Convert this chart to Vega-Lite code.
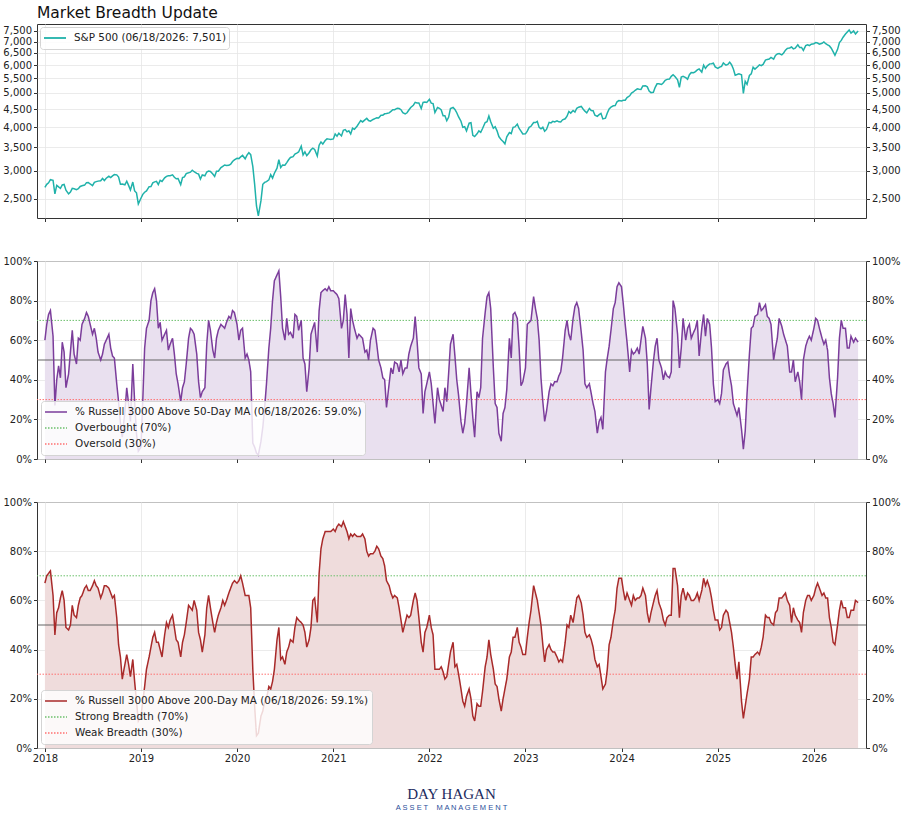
{
  "$schema": "https://vega.github.io/schema/vega-lite/v6.json",
  "padding": {"left": 2, "top": 5, "right": 1, "bottom": 2},
  "background": "white",
  "bounds": "flush",
  "spacing": 43,
  "config": {
    "font": "DejaVu Sans",
    "view": {"stroke": "#333", "strokeWidth": 1},
    "axis": {"domain": false, "tickColor": "#333", "tickSize": 3.5, "labelPadding": 2, "labelFont": "DejaVu Sans", "labelFontSize": 10, "labelColor": "#222", "gridColor": "#e6e6e6", "gridWidth": 0.8, "title": null},
    "legend": {"title": null, "symbolType": "stroke", "symbolSize": 484, "clipHeight": 16, "symbolStrokeWidth": 1.6, "labelFont": "DejaVu Sans", "labelFontSize": 10.4, "labelColor": "#222", "labelOffset": 7, "fillColor": "rgba(255,255,255,0.82)", "strokeColor": "#d4d4d4", "cornerRadius": 3, "padding": 3, "rowPadding": 0, "labelLimit": 500, "offset": 4}
  },
  "title": {"text": "DAY HAGAN", "subtitle": "A S S E T\u00a0\u00a0\u00a0 M A N A G E M E N T", "orient": "bottom", "anchor": "middle", "font": "Liberation Serif", "fontSize": 15, "fontWeight": "normal", "color": "#1c2b5e", "subtitleFont": "Liberation Sans", "subtitleFontSize": 7.5, "subtitleColor": "#2a4f9a", "subtitlePadding": 2, "offset": 23},
  "datasets": {
    "m": [
      {"d":"2018-01-01","s":2695,"a":60,"b":67},{"d":"2018-01-08","s":2748,"a":68,"b":70},{"d":"2018-01-15","s":2776,"a":73,"b":71},{"d":"2018-01-22","s":2833,"a":75,"b":72},
      {"d":"2018-02-01","s":2822,"a":62,"b":62},{"d":"2018-02-08","s":2581,"a":27,"b":46},{"d":"2018-02-15","s":2731,"a":40,"b":55},{"d":"2018-02-22","s":2703,"a":47,"b":57},
      {"d":"2018-03-01","s":2678,"a":41,"b":61},{"d":"2018-03-08","s":2738,"a":59,"b":64},{"d":"2018-03-15","s":2747,"a":54,"b":60},{"d":"2018-03-22","s":2644,"a":36,"b":49},
      {"d":"2018-04-01","s":2582,"a":43,"b":48},{"d":"2018-04-08","s":2613,"a":54,"b":50},{"d":"2018-04-15","s":2677,"a":65,"b":58},{"d":"2018-04-22","s":2670,"a":53,"b":54},
      {"d":"2018-05-01","s":2655,"a":48,"b":53},{"d":"2018-05-08","s":2672,"a":61,"b":58},{"d":"2018-05-15","s":2711,"a":60,"b":61},{"d":"2018-05-22","s":2724,"a":68,"b":62},
      {"d":"2018-06-01","s":2735,"a":71,"b":65},{"d":"2018-06-08","s":2779,"a":74,"b":66},{"d":"2018-06-15","s":2780,"a":72,"b":64},{"d":"2018-06-22","s":2755,"a":68,"b":64},
      {"d":"2018-07-01","s":2726,"a":63,"b":66},{"d":"2018-07-08","s":2784,"a":66,"b":68},{"d":"2018-07-15","s":2798,"a":61,"b":66},{"d":"2018-07-22","s":2807,"a":54,"b":65},
      {"d":"2018-08-01","s":2813,"a":50,"b":61},{"d":"2018-08-08","s":2857,"a":53,"b":63},{"d":"2018-08-15","s":2818,"a":58,"b":66},{"d":"2018-08-22","s":2861,"a":60,"b":66},
      {"d":"2018-09-01","s":2897,"a":63,"b":65},{"d":"2018-09-08","s":2872,"a":56,"b":63},{"d":"2018-09-15","s":2905,"a":52,"b":61},{"d":"2018-09-22","s":2930,"a":51,"b":62},
      {"d":"2018-10-01","s":2924,"a":38,"b":53},{"d":"2018-10-08","s":2884,"a":29,"b":42},{"d":"2018-10-15","s":2750,"a":18,"b":37},{"d":"2018-10-22","s":2755,"a":11,"b":28},
      {"d":"2018-11-01","s":2740,"a":24,"b":34},{"d":"2018-11-08","s":2806,"a":36,"b":38},{"d":"2018-11-15","s":2730,"a":28,"b":34},{"d":"2018-11-22","s":2650,"a":19,"b":29},
      {"d":"2018-12-01","s":2790,"a":48,"b":36},{"d":"2018-12-08","s":2633,"a":29,"b":27},{"d":"2018-12-15","s":2600,"a":13,"b":19},{"d":"2018-12-22","s":2417,"a":4,"b":11},
      {"d":"2019-01-01","s":2510,"a":6,"b":13},{"d":"2019-01-08","s":2574,"a":30,"b":19},{"d":"2019-01-15","s":2610,"a":56,"b":25},{"d":"2019-01-22","s":2633,"a":66,"b":32},
      {"d":"2019-02-01","s":2707,"a":70,"b":37},{"d":"2019-02-08","s":2708,"a":80,"b":41},{"d":"2019-02-15","s":2776,"a":84,"b":45},{"d":"2019-02-22","s":2793,"a":86,"b":47},
      {"d":"2019-03-01","s":2804,"a":80,"b":43},{"d":"2019-03-08","s":2743,"a":66,"b":43},{"d":"2019-03-15","s":2822,"a":69,"b":40},{"d":"2019-03-22","s":2801,"a":60,"b":37},
      {"d":"2019-04-01","s":2867,"a":63,"b":46},{"d":"2019-04-08","s":2895,"a":65,"b":51},{"d":"2019-04-15","s":2906,"a":55,"b":49},{"d":"2019-04-22","s":2908,"a":58,"b":52},
      {"d":"2019-05-01","s":2924,"a":61,"b":54},{"d":"2019-05-08","s":2879,"a":53,"b":49},{"d":"2019-05-15","s":2851,"a":43,"b":44},{"d":"2019-05-22","s":2856,"a":38,"b":43},
      {"d":"2019-06-01","s":2744,"a":29,"b":37},{"d":"2019-06-08","s":2873,"a":36,"b":43},{"d":"2019-06-15","s":2887,"a":39,"b":46},{"d":"2019-06-22","s":2950,"a":48,"b":51},
      {"d":"2019-07-01","s":2964,"a":61,"b":58},{"d":"2019-07-08","s":2976,"a":66,"b":57},{"d":"2019-07-15","s":3014,"a":65,"b":56},{"d":"2019-07-22","s":2985,"a":63,"b":60},
      {"d":"2019-08-01","s":2953,"a":53,"b":56},{"d":"2019-08-08","s":2938,"a":39,"b":47},{"d":"2019-08-15","s":2847,"a":31,"b":44},{"d":"2019-08-22","s":2922,"a":34,"b":39},
      {"d":"2019-09-01","s":2906,"a":36,"b":46},{"d":"2019-09-08","s":2979,"a":58,"b":57},{"d":"2019-09-15","s":2998,"a":70,"b":62},{"d":"2019-09-22","s":2991,"a":65,"b":57},
      {"d":"2019-10-01","s":2940,"a":55,"b":51},{"d":"2019-10-08","s":2893,"a":51,"b":47},{"d":"2019-10-15","s":2995,"a":61,"b":51},{"d":"2019-10-22","s":2996,"a":65,"b":54},
      {"d":"2019-11-01","s":3066,"a":68,"b":57},{"d":"2019-11-08","s":3093,"a":67,"b":60},{"d":"2019-11-15","s":3120,"a":66,"b":58},{"d":"2019-11-22","s":3110,"a":69,"b":60},
      {"d":"2019-12-01","s":3113,"a":72,"b":63},{"d":"2019-12-08","s":3136,"a":71,"b":65},{"d":"2019-12-15","s":3191,"a":75,"b":67},{"d":"2019-12-22","s":3224,"a":74,"b":68},
      {"d":"2020-01-01","s":3258,"a":68,"b":67},{"d":"2020-01-08","s":3253,"a":60,"b":68},{"d":"2020-01-15","s":3289,"a":65,"b":70},{"d":"2020-01-22","s":3321,"a":66,"b":67},
      {"d":"2020-02-01","s":3249,"a":51,"b":62},{"d":"2020-02-08","s":3327,"a":53,"b":62},{"d":"2020-02-15","s":3380,"a":50,"b":62},{"d":"2020-02-22","s":3338,"a":44,"b":57},
      {"d":"2020-03-01","s":3090,"a":8,"b":32},{"d":"2020-03-08","s":2747,"a":6,"b":17},{"d":"2020-03-15","s":2386,"a":3,"b":5},{"d":"2020-03-22","s":2237,"a":2,"b":6},
      {"d":"2020-04-01","s":2470,"a":9,"b":13},{"d":"2020-04-08","s":2750,"a":16,"b":15},{"d":"2020-04-15","s":2783,"a":26,"b":19},{"d":"2020-04-22","s":2799,"a":38,"b":20},
      {"d":"2020-05-01","s":2830,"a":56,"b":25},{"d":"2020-05-08","s":2930,"a":66,"b":24},{"d":"2020-05-15","s":2863,"a":80,"b":27},{"d":"2020-05-22","s":2955,"a":90,"b":32},
      {"d":"2020-06-01","s":3055,"a":93,"b":44},{"d":"2020-06-08","s":3232,"a":95,"b":49},{"d":"2020-06-15","s":3067,"a":82,"b":36},{"d":"2020-06-22","s":3117,"a":66,"b":37},
      {"d":"2020-07-01","s":3115,"a":60,"b":34},{"d":"2020-07-08","s":3169,"a":71,"b":39},{"d":"2020-07-15","s":3227,"a":63,"b":41},{"d":"2020-07-22","s":3276,"a":64,"b":44},
      {"d":"2020-08-01","s":3295,"a":61,"b":43},{"d":"2020-08-08","s":3351,"a":73,"b":49},{"d":"2020-08-15","s":3372,"a":72,"b":53},{"d":"2020-08-22","s":3397,"a":65,"b":52},
      {"d":"2020-09-01","s":3527,"a":70,"b":51},{"d":"2020-09-08","s":3332,"a":51,"b":50},{"d":"2020-09-15","s":3401,"a":48,"b":47},{"d":"2020-09-22","s":3315,"a":34,"b":41},
      {"d":"2020-10-01","s":3380,"a":46,"b":44},{"d":"2020-10-08","s":3446,"a":63,"b":49},{"d":"2020-10-15","s":3483,"a":66,"b":60},{"d":"2020-10-22","s":3453,"a":69,"b":61},
      {"d":"2020-11-01","s":3310,"a":54,"b":51},{"d":"2020-11-08","s":3550,"a":75,"b":71},{"d":"2020-11-15","s":3627,"a":84,"b":81},{"d":"2020-11-22","s":3577,"a":85,"b":85},
      {"d":"2020-12-01","s":3662,"a":86,"b":88},{"d":"2020-12-08","s":3702,"a":85,"b":88},{"d":"2020-12-15","s":3695,"a":87,"b":88},{"d":"2020-12-22","s":3687,"a":85,"b":88},
      {"d":"2021-01-01","s":3700,"a":85,"b":89},{"d":"2021-01-08","s":3824,"a":84,"b":88},{"d":"2021-01-15","s":3768,"a":83,"b":90},{"d":"2021-01-22","s":3841,"a":81,"b":91},
      {"d":"2021-02-01","s":3773,"a":66,"b":90},{"d":"2021-02-08","s":3915,"a":70,"b":92},{"d":"2021-02-15","s":3932,"a":83,"b":90},{"d":"2021-02-22","s":3876,"a":73,"b":88},
      {"d":"2021-03-01","s":3901,"a":51,"b":85},{"d":"2021-03-08","s":3821,"a":76,"b":87},{"d":"2021-03-15","s":3968,"a":70,"b":86},{"d":"2021-03-22","s":3940,"a":66,"b":87},
      {"d":"2021-04-01","s":4020,"a":61,"b":86},{"d":"2021-04-08","s":4097,"a":63,"b":86},{"d":"2021-04-15","s":4170,"a":62,"b":86},{"d":"2021-04-22","s":4135,"a":61,"b":87},
      {"d":"2021-05-01","s":4192,"a":54,"b":85},{"d":"2021-05-08","s":4232,"a":55,"b":80},{"d":"2021-05-15","s":4173,"a":50,"b":78},{"d":"2021-05-22","s":4156,"a":60,"b":79},
      {"d":"2021-06-01","s":4202,"a":66,"b":79},{"d":"2021-06-08","s":4227,"a":65,"b":80},{"d":"2021-06-15","s":4247,"a":58,"b":82},{"d":"2021-06-22","s":4246,"a":50,"b":81},
      {"d":"2021-07-01","s":4320,"a":46,"b":78},{"d":"2021-07-08","s":4321,"a":41,"b":77},{"d":"2021-07-15","s":4360,"a":40,"b":74},{"d":"2021-07-22","s":4367,"a":26,"b":68},
      {"d":"2021-08-01","s":4387,"a":38,"b":66},{"d":"2021-08-08","s":4432,"a":46,"b":63},{"d":"2021-08-15","s":4479,"a":43,"b":61},{"d":"2021-08-22","s":4479,"a":49,"b":62},
      {"d":"2021-09-01","s":4524,"a":48,"b":61},{"d":"2021-09-08","s":4514,"a":44,"b":57},{"d":"2021-09-15","s":4480,"a":50,"b":52},{"d":"2021-09-22","s":4395,"a":43,"b":47},
      {"d":"2021-10-01","s":4357,"a":46,"b":51},{"d":"2021-10-08","s":4391,"a":46,"b":54},{"d":"2021-10-15","s":4471,"a":53,"b":53},{"d":"2021-10-22","s":4545,"a":57,"b":54},
      {"d":"2021-11-01","s":4613,"a":61,"b":60},{"d":"2021-11-08","s":4701,"a":72,"b":63},{"d":"2021-11-15","s":4682,"a":60,"b":60},{"d":"2021-11-22","s":4682,"a":46,"b":53},
      {"d":"2021-12-01","s":4513,"a":43,"b":43},{"d":"2021-12-08","s":4701,"a":23,"b":39},{"d":"2021-12-15","s":4709,"a":34,"b":47},{"d":"2021-12-22","s":4696,"a":38,"b":49},
      {"d":"2022-01-01","s":4796,"a":44,"b":54},{"d":"2022-01-08","s":4677,"a":38,"b":49},{"d":"2022-01-15","s":4662,"a":28,"b":46},{"d":"2022-01-22","s":4398,"a":18,"b":32},
      {"d":"2022-02-01","s":4546,"a":36,"b":32},{"d":"2022-02-08","s":4521,"a":30,"b":32},{"d":"2022-02-15","s":4471,"a":27,"b":33},{"d":"2022-02-22","s":4304,"a":24,"b":31},
      {"d":"2022-03-01","s":4306,"a":36,"b":28},{"d":"2022-03-08","s":4170,"a":29,"b":29},{"d":"2022-03-15","s":4262,"a":43,"b":34},{"d":"2022-03-22","s":4512,"a":58,"b":39},
      {"d":"2022-04-01","s":4545,"a":63,"b":43},{"d":"2022-04-08","s":4488,"a":52,"b":33},{"d":"2022-04-15","s":4392,"a":40,"b":34},{"d":"2022-04-22","s":4272,"a":32,"b":30},
      {"d":"2022-05-01","s":4155,"a":19,"b":24},{"d":"2022-05-08","s":3991,"a":13,"b":19},{"d":"2022-05-15","s":4008,"a":18,"b":17},{"d":"2022-05-22","s":3901,"a":28,"b":21},
      {"d":"2022-06-01","s":4101,"a":46,"b":24},{"d":"2022-06-08","s":4115,"a":33,"b":20},{"d":"2022-06-15","s":3790,"a":21,"b":13},{"d":"2022-06-22","s":3759,"a":11,"b":11},
      {"d":"2022-07-01","s":3825,"a":34,"b":18},{"d":"2022-07-08","s":3899,"a":31,"b":17},{"d":"2022-07-15","s":3863,"a":36,"b":17},{"d":"2022-07-22","s":3962,"a":61,"b":23},
      {"d":"2022-08-01","s":4118,"a":74,"b":33},{"d":"2022-08-08","s":4140,"a":82,"b":37},{"d":"2022-08-15","s":4297,"a":84,"b":44},{"d":"2022-08-22","s":4138,"a":76,"b":38},
      {"d":"2022-09-01","s":3967,"a":46,"b":32},{"d":"2022-09-08","s":4006,"a":28,"b":26},{"d":"2022-09-15","s":3901,"a":26,"b":25},{"d":"2022-09-22","s":3758,"a":13,"b":20},
      {"d":"2022-10-01","s":3678,"a":9,"b":15},{"d":"2022-10-08","s":3639,"a":23,"b":20},{"d":"2022-10-15","s":3583,"a":26,"b":24},{"d":"2022-10-22","s":3752,"a":35,"b":28},
      {"d":"2022-11-01","s":3856,"a":61,"b":37},{"d":"2022-11-08","s":3828,"a":51,"b":39},{"d":"2022-11-15","s":3992,"a":73,"b":45},{"d":"2022-11-22","s":4003,"a":74,"b":45},
      {"d":"2022-12-01","s":4076,"a":71,"b":49},{"d":"2022-12-08","s":3963,"a":56,"b":43},{"d":"2022-12-15","s":3895,"a":37,"b":41},{"d":"2022-12-22","s":3822,"a":39,"b":38},
      {"d":"2023-01-01","s":3824,"a":46,"b":38},{"d":"2023-01-08","s":3892,"a":68,"b":45},{"d":"2023-01-15","s":3990,"a":69,"b":51},{"d":"2023-01-22","s":4019,"a":70,"b":56},
      {"d":"2023-02-01","s":4119,"a":82,"b":66},{"d":"2023-02-08","s":4117,"a":76,"b":63},{"d":"2023-02-15","s":4148,"a":71,"b":60},{"d":"2023-02-22","s":3991,"a":60,"b":55},
      {"d":"2023-03-01","s":3951,"a":41,"b":50},{"d":"2023-03-08","s":3992,"a":29,"b":42},{"d":"2023-03-15","s":3892,"a":19,"b":35},{"d":"2023-03-22","s":3937,"a":24,"b":40},
      {"d":"2023-04-01","s":4124,"a":34,"b":42},{"d":"2023-04-08","s":4110,"a":38,"b":40},{"d":"2023-04-15","s":4151,"a":37,"b":39},{"d":"2023-04-22","s":4137,"a":39,"b":39},
      {"d":"2023-05-01","s":4167,"a":39,"b":37},{"d":"2023-05-08","s":4138,"a":42,"b":35},{"d":"2023-05-15","s":4136,"a":44,"b":36},{"d":"2023-05-22","s":4192,"a":51,"b":35},
      {"d":"2023-06-01","s":4221,"a":65,"b":43},{"d":"2023-06-08","s":4294,"a":70,"b":50},{"d":"2023-06-15","s":4426,"a":63,"b":49},{"d":"2023-06-22","s":4381,"a":60,"b":54},
      {"d":"2023-07-01","s":4455,"a":71,"b":51},{"d":"2023-07-08","s":4410,"a":77,"b":56},{"d":"2023-07-15","s":4522,"a":79,"b":61},{"d":"2023-07-22","s":4554,"a":76,"b":62},
      {"d":"2023-08-01","s":4577,"a":64,"b":59},{"d":"2023-08-08","s":4499,"a":55,"b":54},{"d":"2023-08-15","s":4437,"a":38,"b":47},{"d":"2023-08-22","s":4388,"a":36,"b":45},
      {"d":"2023-09-01","s":4516,"a":38,"b":46},{"d":"2023-09-08","s":4457,"a":33,"b":44},{"d":"2023-09-15","s":4450,"a":28,"b":41},{"d":"2023-09-22","s":4320,"a":24,"b":36},
      {"d":"2023-10-01","s":4288,"a":13,"b":33},{"d":"2023-10-08","s":4336,"a":19,"b":34},{"d":"2023-10-15","s":4373,"a":21,"b":29},{"d":"2023-10-22","s":4217,"a":15,"b":24},
      {"d":"2023-11-01","s":4237,"a":44,"b":26},{"d":"2023-11-08","s":4383,"a":51,"b":32},{"d":"2023-11-15","s":4503,"a":57,"b":42},{"d":"2023-11-22","s":4556,"a":65,"b":45},
      {"d":"2023-12-01","s":4595,"a":76,"b":52},{"d":"2023-12-08","s":4604,"a":79,"b":56},{"d":"2023-12-15","s":4719,"a":87,"b":65},{"d":"2023-12-22","s":4755,"a":89,"b":69},
      {"d":"2024-01-01","s":4743,"a":87,"b":69},{"d":"2024-01-08","s":4764,"a":78,"b":64},{"d":"2024-01-15","s":4766,"a":68,"b":60},{"d":"2024-01-22","s":4850,"a":59,"b":63},
      {"d":"2024-02-01","s":4906,"a":44,"b":60},{"d":"2024-02-08","s":4997,"a":55,"b":58},{"d":"2024-02-15","s":5030,"a":53,"b":62},{"d":"2024-02-22","s":5087,"a":54,"b":60},
      {"d":"2024-03-01","s":5137,"a":56,"b":61},{"d":"2024-03-08","s":5124,"a":53,"b":61},{"d":"2024-03-15","s":5117,"a":60,"b":62},{"d":"2024-03-22","s":5234,"a":67,"b":65},
      {"d":"2024-04-01","s":5243,"a":61,"b":62},{"d":"2024-04-08","s":5202,"a":48,"b":55},{"d":"2024-04-15","s":5061,"a":25,"b":51},{"d":"2024-04-22","s":5010,"a":36,"b":55},
      {"d":"2024-05-01","s":5018,"a":49,"b":59},{"d":"2024-05-08","s":5187,"a":57,"b":62},{"d":"2024-05-15","s":5308,"a":61,"b":64},{"d":"2024-05-22","s":5307,"a":50,"b":59},
      {"d":"2024-06-01","s":5283,"a":46,"b":56},{"d":"2024-06-08","s":5347,"a":40,"b":52},{"d":"2024-06-15","s":5431,"a":44,"b":50},{"d":"2024-06-22","s":5464,"a":42,"b":53},
      {"d":"2024-07-01","s":5475,"a":41,"b":54},{"d":"2024-07-08","s":5572,"a":44,"b":54},{"d":"2024-07-15","s":5631,"a":80,"b":73},{"d":"2024-07-22","s":5564,"a":76,"b":73},
      {"d":"2024-08-01","s":5446,"a":63,"b":66},{"d":"2024-08-08","s":5186,"a":46,"b":53},{"d":"2024-08-15","s":5543,"a":56,"b":62},{"d":"2024-08-22","s":5570,"a":71,"b":65},
      {"d":"2024-09-01","s":5528,"a":60,"b":60},{"d":"2024-09-08","s":5471,"a":66,"b":63},{"d":"2024-09-15","s":5633,"a":68,"b":62},{"d":"2024-09-22","s":5718,"a":61,"b":60},
      {"d":"2024-10-01","s":5709,"a":64,"b":60},{"d":"2024-10-08","s":5751,"a":66,"b":61},{"d":"2024-10-15","s":5815,"a":70,"b":63},{"d":"2024-10-22","s":5851,"a":52,"b":60},
      {"d":"2024-11-01","s":5729,"a":66,"b":64},{"d":"2024-11-08","s":5995,"a":73,"b":69},{"d":"2024-11-15","s":5870,"a":62,"b":66},{"d":"2024-11-22","s":5969,"a":71,"b":68},
      {"d":"2024-12-01","s":6047,"a":68,"b":65},{"d":"2024-12-08","s":6053,"a":56,"b":61},{"d":"2024-12-15","s":6074,"a":38,"b":56},{"d":"2024-12-22","s":5930,"a":29,"b":52},
      {"d":"2025-01-01","s":5868,"a":30,"b":52},{"d":"2025-01-08","s":5918,"a":28,"b":48},{"d":"2025-01-15","s":5950,"a":33,"b":49},{"d":"2025-01-22","s":6086,"a":45,"b":54},
      {"d":"2025-02-01","s":5994,"a":48,"b":56},{"d":"2025-02-08","s":6026,"a":49,"b":55},{"d":"2025-02-15","s":6114,"a":42,"b":51},{"d":"2025-02-22","s":6013,"a":37,"b":47},
      {"d":"2025-03-01","s":5849,"a":28,"b":41},{"d":"2025-03-08","s":5614,"a":25,"b":34},{"d":"2025-03-15","s":5639,"a":22,"b":28},{"d":"2025-03-22","s":5667,"a":26,"b":35},
      {"d":"2025-04-01","s":5633,"a":15,"b":19},{"d":"2025-04-08","s":4982,"a":5,"b":12},{"d":"2025-04-15","s":5396,"a":14,"b":17},{"d":"2025-04-22","s":5287,"a":33,"b":22},
      {"d":"2025-05-01","s":5604,"a":53,"b":28},{"d":"2025-05-08","s":5663,"a":66,"b":37},{"d":"2025-05-15","s":5916,"a":67,"b":37},{"d":"2025-05-22","s":5842,"a":72,"b":38},
      {"d":"2025-06-01","s":5936,"a":73,"b":39},{"d":"2025-06-08","s":6006,"a":79,"b":38},{"d":"2025-06-15","s":5977,"a":75,"b":41},{"d":"2025-06-22","s":6025,"a":76,"b":45},
      {"d":"2025-07-01","s":6198,"a":78,"b":54},{"d":"2025-07-08","s":6226,"a":72,"b":53},{"d":"2025-07-15","s":6244,"a":71,"b":53},{"d":"2025-07-22","s":6309,"a":68,"b":51},
      {"d":"2025-08-01","s":6238,"a":50,"b":50},{"d":"2025-08-08","s":6389,"a":56,"b":55},{"d":"2025-08-15","s":6450,"a":61,"b":56},{"d":"2025-08-22","s":6467,"a":71,"b":61},
      {"d":"2025-09-01","s":6415,"a":67,"b":61},{"d":"2025-09-08","s":6495,"a":63,"b":62},{"d":"2025-09-15","s":6615,"a":60,"b":63},{"d":"2025-09-22","s":6693,"a":57,"b":60},
      {"d":"2025-10-01","s":6711,"a":44,"b":58},{"d":"2025-10-08","s":6753,"a":44,"b":51},{"d":"2025-10-15","s":6671,"a":50,"b":57},{"d":"2025-10-22","s":6699,"a":39,"b":54},
      {"d":"2025-11-01","s":6851,"a":44,"b":52},{"d":"2025-11-08","s":6728,"a":39,"b":51},{"d":"2025-11-15","s":6734,"a":30,"b":47},{"d":"2025-11-22","s":6603,"a":50,"b":55},
      {"d":"2025-12-01","s":6812,"a":57,"b":60},{"d":"2025-12-08","s":6846,"a":60,"b":62},{"d":"2025-12-15","s":6816,"a":62,"b":62},{"d":"2025-12-22","s":6878,"a":60,"b":60},
      {"d":"2026-01-01","s":6900,"a":66,"b":62},{"d":"2026-01-08","s":6950,"a":71,"b":65},{"d":"2026-01-15","s":6930,"a":70,"b":67},{"d":"2026-01-22","s":6880,"a":66,"b":65},
      {"d":"2026-02-01","s":6920,"a":61,"b":62},{"d":"2026-02-08","s":6980,"a":58,"b":63},{"d":"2026-02-15","s":6900,"a":60,"b":61},{"d":"2026-02-22","s":6850,"a":55,"b":61},
      {"d":"2026-03-01","s":6800,"a":41,"b":53},{"d":"2026-03-08","s":6700,"a":33,"b":49},{"d":"2026-03-15","s":6550,"a":28,"b":43},{"d":"2026-03-22","s":6400,"a":21,"b":42},
      {"d":"2026-04-01","s":6650,"a":41,"b":50},{"d":"2026-04-08","s":6950,"a":61,"b":56},{"d":"2026-04-15","s":7050,"a":70,"b":60},{"d":"2026-04-22","s":7200,"a":66,"b":57},
      {"d":"2026-05-01","s":7350,"a":66,"b":57},{"d":"2026-05-08","s":7450,"a":56,"b":53},{"d":"2026-05-15","s":7550,"a":56,"b":53},{"d":"2026-05-22","s":7400,"a":62,"b":56},
      {"d":"2026-06-01","s":7500,"a":59,"b":56},{"d":"2026-06-08","s":7350,"a":61,"b":60},{"d":"2026-06-18","s":7501,"a":59.0,"b":59.1}
    ],
    "lv50": [{"v":70,"k":"Overbought (70%)"},{"v":30,"k":"Oversold (30%)"}],
    "lv200": [{"v":70,"k":"Strong Breadth (70%)"},{"v":30,"k":"Weak Breadth (30%)"}],
    "mid": [{"v":50}]
  },
  "vconcat": [
    {
      "title": {"text": "Market Breadth Update", "anchor": "start", "frame": "group", "font": "DejaVu Sans", "fontSize": 15.5, "fontWeight": "normal", "color": "#111", "offset": 3},
      "width": 829, "height": 194,
      "data": {"name": "m"},
      "transform": [{"calculate": "'S&P 500 (06/18/2026: 7,501)'", "as": "k"}],
      "layer": [
        {
          "mark": {"type": "line", "strokeWidth": 1.5},
          "encoding": {
            "x": {"field": "d", "type": "temporal", "scale": {"domain": [{"year": 2017, "month": 12, "date": 2, "utc": true}, {"year": 2026, "month": 7, "date": 18, "utc": true}]}, "axis": {"labels": false, "tickCount": {"interval": "year", "step": 1}, "grid": true}},
            "y": {"field": "s", "type": "quantitative", "scale": {"type": "log", "domain": [2205, 7850]}, "axis": {"orient": "left", "values": [2500, 3000, 3500, 4000, 4500, 5000, 5500, 6000, 6500, 7000, 7500], "format": ",", "grid": true}},
            "color": {"field": "k", "type": "nominal", "scale": {"range": ["#20b2aa"]}, "legend": {"orient": "top-left", "offset": 3, "symbolStrokeWidth": 1.8}}
          }
        },
        {
          "mark": {"type": "line", "opacity": 0},
          "encoding": {
            "x": {"field": "d", "type": "temporal", "scale": {"domain": [{"year": 2017, "month": 12, "date": 2, "utc": true}, {"year": 2026, "month": 7, "date": 18, "utc": true}]}, "axis": {"labels": false, "tickCount": {"interval": "year", "step": 1}, "grid": true}},
            "y": {"field": "s", "type": "quantitative", "scale": {"type": "log", "domain": [2205, 7850]}, "axis": {"orient": "right", "values": [2500, 3000, 3500, 4000, 4500, 5000, 5500, 6000, 6500, 7000, 7500], "format": ",", "grid": false}}
          }
        }
      ],
      "resolve": {"scale": {"y": "independent"}}
    },
    {
      "width": 829, "height": 198,
      "layer": [
        {
          "data": {"name": "m"},
          "mark": {"type": "area", "color": "#e9e0ef"},
          "encoding": {
            "x": {"field": "d", "type": "temporal", "scale": {"domain": [{"year": 2017, "month": 12, "date": 2, "utc": true}, {"year": 2026, "month": 7, "date": 18, "utc": true}]}, "axis": {"labels": false, "tickCount": {"interval": "year", "step": 1}, "grid": true}},
            "y": {"field": "a", "type": "quantitative", "scale": {"domain": [0, 100]}, "axis": {"orient": "left", "values": [0, 20, 40, 60, 80, 100], "labelExpr": "datum.value + '%'", "grid": true}}
          }
        },
        {
          "data": {"name": "mid"},
          "mark": {"type": "rule", "color": "#555", "strokeWidth": 1, "opacity": 0.9},
          "encoding": {
            "y": {"field": "v", "type": "quantitative", "scale": {"domain": [0, 100]}, "axis": {"orient": "right", "values": [0, 20, 40, 60, 80, 100], "labelExpr": "datum.value + '%'", "grid": false}}
          }
        },
        {
          "data": {"name": "lv50"},
          "mark": {"type": "rule", "strokeWidth": 1},
          "encoding": {
            "y": {"field": "v", "type": "quantitative", "scale": {"domain": [0, 100]}, "axis": null},
            "color": {"field": "k", "type": "nominal", "scale": {"domain": ["% Russell 3000 Above 50-Day MA (06/18/2026: 59.0%)", "Overbought (70%)", "Oversold (30%)"], "range": ["#7b3d9b", "#6cc06c", "#ff7070"]}, "legend": {"orient": "bottom-left"}},
            "strokeDash": {"field": "k", "type": "nominal", "scale": {"domain": ["% Russell 3000 Above 50-Day MA (06/18/2026: 59.0%)", "Overbought (70%)", "Oversold (30%)"], "range": [[1, 0], [1.5, 1.5], [1.5, 1.5]]}, "legend": {"orient": "bottom-left"}}
          }
        },
        {
          "data": {"name": "m"},
          "transform": [{"calculate": "'% Russell 3000 Above 50-Day MA (06/18/2026: 59.0%)'", "as": "k"}],
          "mark": {"type": "line", "strokeWidth": 1.5},
          "encoding": {
            "x": {"field": "d", "type": "temporal", "scale": {"domain": [{"year": 2017, "month": 12, "date": 2, "utc": true}, {"year": 2026, "month": 7, "date": 18, "utc": true}]}, "axis": {"labels": false, "tickCount": {"interval": "year", "step": 1}, "grid": true}},
            "y": {"field": "a", "type": "quantitative", "scale": {"domain": [0, 100]}, "axis": null},
            "color": {"field": "k", "type": "nominal"},
            "strokeDash": {"field": "k", "type": "nominal"}
          }
        }
      ],
      "resolve": {"scale": {"y": "independent"}}
    },
    {
      "width": 829, "height": 246,
      "layer": [
        {
          "data": {"name": "m"},
          "mark": {"type": "area", "color": "#efdcdc"},
          "encoding": {
            "x": {"field": "d", "type": "temporal", "scale": {"domain": [{"year": 2017, "month": 12, "date": 2, "utc": true}, {"year": 2026, "month": 7, "date": 18, "utc": true}]}, "axis": {"labels": true, "format": "%Y", "tickCount": {"interval": "year", "step": 1}, "grid": true}},
            "y": {"field": "b", "type": "quantitative", "scale": {"domain": [0, 100]}, "axis": {"orient": "left", "values": [0, 20, 40, 60, 80, 100], "labelExpr": "datum.value + '%'", "grid": true}}
          }
        },
        {
          "data": {"name": "mid"},
          "mark": {"type": "rule", "color": "#555", "strokeWidth": 1, "opacity": 0.9},
          "encoding": {
            "y": {"field": "v", "type": "quantitative", "scale": {"domain": [0, 100]}, "axis": {"orient": "right", "values": [0, 20, 40, 60, 80, 100], "labelExpr": "datum.value + '%'", "grid": false}}
          }
        },
        {
          "data": {"name": "lv200"},
          "mark": {"type": "rule", "strokeWidth": 1},
          "encoding": {
            "y": {"field": "v", "type": "quantitative", "scale": {"domain": [0, 100]}, "axis": null},
            "color": {"field": "k", "type": "nominal", "scale": {"domain": ["% Russell 3000 Above 200-Day MA (06/18/2026: 59.1%)", "Strong Breadth (70%)", "Weak Breadth (30%)"], "range": ["#a82a2a", "#6cc06c", "#ff7070"]}, "legend": {"orient": "bottom-left"}},
            "strokeDash": {"field": "k", "type": "nominal", "scale": {"domain": ["% Russell 3000 Above 200-Day MA (06/18/2026: 59.1%)", "Strong Breadth (70%)", "Weak Breadth (30%)"], "range": [[1, 0], [1.5, 1.5], [1.5, 1.5]]}, "legend": {"orient": "bottom-left"}}
          }
        },
        {
          "data": {"name": "m"},
          "transform": [{"calculate": "'% Russell 3000 Above 200-Day MA (06/18/2026: 59.1%)'", "as": "k"}],
          "mark": {"type": "line", "strokeWidth": 1.5},
          "encoding": {
            "x": {"field": "d", "type": "temporal", "scale": {"domain": [{"year": 2017, "month": 12, "date": 2, "utc": true}, {"year": 2026, "month": 7, "date": 18, "utc": true}]}, "axis": {"labels": true, "format": "%Y", "tickCount": {"interval": "year", "step": 1}, "grid": true}},
            "y": {"field": "b", "type": "quantitative", "scale": {"domain": [0, 100]}, "axis": null},
            "color": {"field": "k", "type": "nominal"},
            "strokeDash": {"field": "k", "type": "nominal"}
          }
        }
      ],
      "resolve": {"scale": {"y": "independent"}}
    }
  ],
  "resolve": {"scale": {"color": "independent", "strokeDash": "independent"}}
}
